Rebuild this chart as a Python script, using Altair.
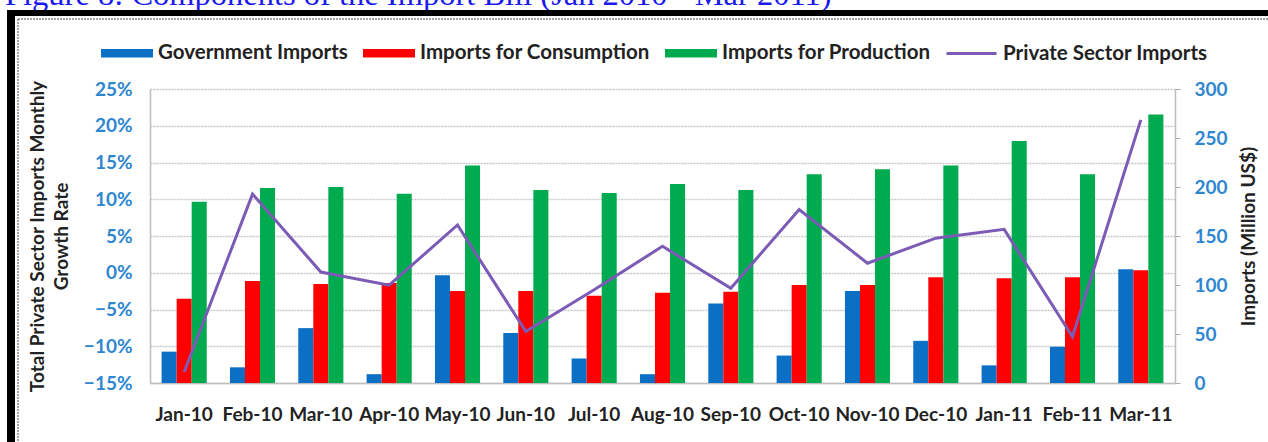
import altair as alt
import pandas as pd

months = ["Jan-10", "Feb-10", "Mar-10", "Apr-10", "May-10", "Jun-10", "Jul-10", "Aug-10",
          "Sep-10", "Oct-10", "Nov-10", "Dec-10", "Jan-11", "Feb-11", "Mar-11"]
gov = [32, 16, 56, 9, 110, 51, 25, 9, 81, 28, 94, 43, 18, 37, 116]
cons = [86, 104, 101, 102, 94, 94, 89, 92, 93, 100, 100, 108, 107, 108, 115]
prod = [185, 199, 200, 193, 222, 197, 194, 203, 197, 213, 218, 222, 247, 213, 274]
growth_pct = [-13.5, 10.7, 0.1, -1.7, 6.5, -8.0, -2.3, 3.6, -2.1, 8.6, 1.3, 4.7, 5.9, -8.7, 20.8]

series = ["Government Imports", "Imports for Consumption", "Imports for Production"]
bar_colors = ["#0B6FC6", "#FF0000", "#00AA4F"]
line_name = "Private Sector Imports"
line_color = "#7B5BB5"
left_ticks = [-0.15, -0.10, -0.05, 0.0, 0.05, 0.10, 0.15, 0.20, 0.25]
right_ticks = [0, 50, 100, 150, 200, 250, 300]
title_text = "Figure 8: Components of the Import Bill (Jan 2010 - Mar 2011)"
left_title = ["Total Private Sector Imports Monthly", "Growth Rate"]
right_title = "Imports (Million US$)"

rows = []
for i, m in enumerate(months):
    for s, vals in zip(series, [gov, cons, prod]):
        rows.append({"month": m, "series": s, "value": vals[i]})
bars_df = pd.DataFrame(rows)
line_df = pd.DataFrame({"month": months, "growth": [g / 100 for g in growth_pct], "name": line_name})
one = pd.DataFrame({"t": [title_text]})

FONT = "Lato"
FS = 19
LFS = 20.5
AXIS_BLUE = "#2E86D0"
PL, PT = 150, 89  # view origin in page pixels

x_enc = alt.X(
    "month:N", sort=months,
    scale=alt.Scale(paddingInner=0.34, paddingOuter=0.17),
    axis=alt.Axis(title=None, labelFont=FONT, labelFontSize=FS, labelFontWeight="bold",
                  labelColor="#222222", labelPadding=22, ticks=False, labelAngle=0,
                  domainColor="#BDBDBD", domainWidth=1.5),
)

bars = alt.Chart(bars_df).mark_bar().encode(
    x=x_enc,
    xOffset=alt.XOffset("series:N", sort=series),
    y=alt.Y("value:Q", scale=alt.Scale(domain=[0, 300], nice=False),
            axis=alt.Axis(orient="right", values=right_ticks, title=right_title, grid=False,
                          labelFont=FONT, labelFontSize=FS, labelFontWeight="bold",
                          labelColor=AXIS_BLUE, labelPadding=14, tickSize=5,
                          tickColor="#AAAAAA", domainColor="#BDBDBD", domainWidth=1.5,
                          titleFont=FONT, titleFontSize=FS, titleFontWeight="bold",
                          titleColor="#222222", titleAngle=270, titleBaseline="top",
                          titlePadding=12)),
    color=alt.Color("series:N", sort=series,
                    scale=alt.Scale(domain=series, range=bar_colors),
                    legend=alt.Legend(title=None, orient="none", direction="horizontal",
                                      legendX=101 - PL, legendY=27 - PT,
                                      symbolType="M-1,-0.16L1,-0.16L1,0.16L-1,0.16Z",
                                      symbolSize=2704, symbolStrokeWidth=0,
                                      labelFont=FONT, labelFontSize=LFS, labelFontWeight="bold",
                                      labelColor="#222222", labelOffset=5, columnPadding=15,
                                      labelLimit=0, padding=0)),
)

line = alt.Chart(line_df).mark_line(strokeWidth=3).encode(
    x=alt.X("month:N", sort=months),
    y=alt.Y("growth:Q", scale=alt.Scale(domain=[-0.15, 0.25], nice=False),
            axis=alt.Axis(orient="left", values=left_ticks, format=".0%", title=left_title,
                          grid=True, gridColor="#C8C8C8", gridDash=[2, 1], gridWidth=1.5,
                          labelFont=FONT, labelFontSize=FS, labelFontWeight="bold",
                          labelColor=AXIS_BLUE, labelPadding=18, ticks=False,
                          domainColor="#BDBDBD", domainWidth=1.5,
                          titleFont=FONT, titleFontSize=FS, titleFontWeight="bold",
                          titleColor="#222222", titlePadding=12, titleLineHeight=24)),
    stroke=alt.Stroke("name:N", scale=alt.Scale(domain=[line_name], range=[line_color]),
                      legend=alt.Legend(title=None, orient="none", legendX=945 - PL,
                                        legendY=27 - PT, symbolType="stroke", symbolSize=2500,
                                        symbolStrokeWidth=3, labelFont=FONT, labelFontSize=LFS,
                                        labelFontWeight="bold", labelColor="#222222",
                                        labelOffset=5, labelLimit=0, padding=0)),
)

title_mark = alt.Chart(one).mark_text(
    font="Liberation Serif", fontSize=32.5, color="#1a1af0", align="left", baseline="alphabetic"
).encode(text="t:N", x=alt.value(5 - PL), y=alt.value(5 - PT))

frame_top = alt.Chart(one).mark_rule(color="black", strokeWidth=6).encode(
    x=alt.value(7 - PL), x2=alt.value(1268 - PL), y=alt.value(13 - PT))
frame_left = alt.Chart(one).mark_rule(color="black", strokeWidth=8).encode(
    x=alt.value(11 - PL), y=alt.value(10 - PT), y2=alt.value(442 - PT))
dot_top = alt.Chart(one).mark_rule(color="#888888", strokeWidth=1.5, strokeDash=[2, 1]).encode(
    x=alt.value(18 - PL), x2=alt.value(1268 - PL), y=alt.value(19 - PT))
dot_left = alt.Chart(one).mark_rule(color="#888888", strokeWidth=1.5, strokeDash=[2, 1]).encode(
    x=alt.value(18 - PL), y=alt.value(19 - PT), y2=alt.value(442 - PT))

chart = alt.layer(
    bars, line, title_mark, frame_top, frame_left, dot_top, dot_left
).resolve_scale(
    y="independent"
).properties(
    width=1025, height=294,
    autosize=alt.AutoSizeParams(type="none"),
    padding={"left": PL, "top": PT, "right": 1268 - PL - 1025, "bottom": 442 - PT - 294},
).configure_view(stroke=None)

chart.save("out.html", embed_options={"renderer": "svg", "actions": False})
